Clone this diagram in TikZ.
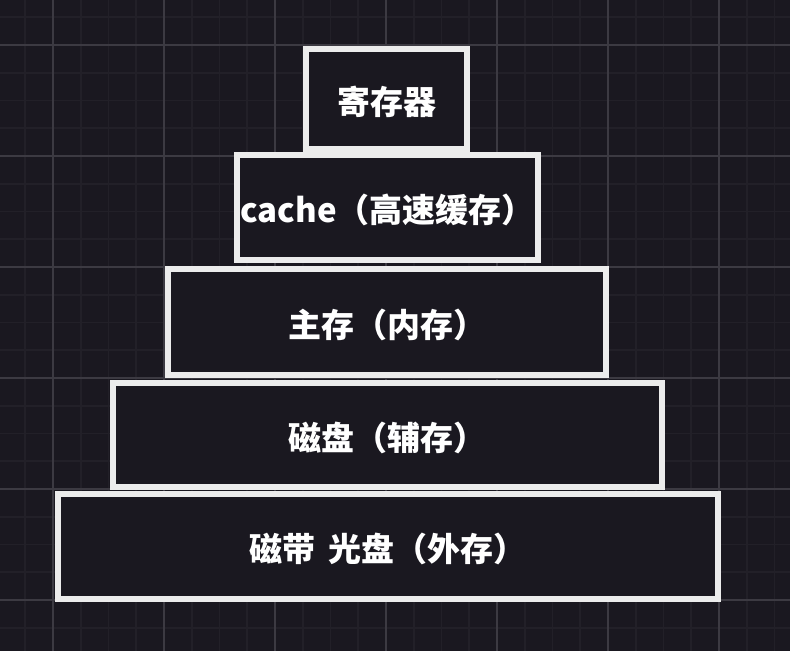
\documentclass[tikz,border=0pt]{standalone}
\usepackage{fontspec}
\newfontfamily\cjk{Noto Sans CJK SC}
\definecolor{bg}{RGB}{26,24,32}
\definecolor{gridminor}{RGB}{34,32,40}
\definecolor{gridmajor}{RGB}{60,58,66}
\definecolor{boxline}{RGB}{236,236,236}
\tikzset{level/.style={rectangle,draw=boxline,line width=5.5pt,fill=bg,text=white,inner sep=0pt,outer sep=0pt,text height=36pt,text depth=6pt,font=\cjk\bfseries\fontsize{33}{33}\selectfont}}
\tikzset{minorline/.style={draw=gridminor,line width=1.6pt}}
\tikzset{majorline/.style={draw=gridmajor,line width=1.2pt}}

\begin{document}
\begin{tikzpicture}[x=1pt,y=-1pt]
    \fill[bg] (0,0) rectangle (790,651);
    \useasboundingbox (0,0) rectangle (790,651);
    % grid
    \foreach \x in {25.25,53,...,790} \draw[minorline] (\x,0) -- (\x,651);
    \foreach \y in {17.25,45,...,651} \draw[minorline] (0,\y) -- (790,\y);
    \foreach \x in {53,164,...,790} \draw[majorline] (\x,0) -- (\x,651);
    \foreach \y in {45,156,...,651} \draw[majorline] (0,\y) -- (790,\y);
    % levels
    \node[level,minimum width=161pt,minimum height=100pt] (reg) at (386.5,99) {寄存器};
    \node[level,minimum width=301pt,minimum height=105pt] (cache) at (387.5,207.5) {cache（高速缓存）};
    \node[level,minimum width=438pt,minimum height=106pt] (mem) at (387,322) {主存（内存）};
    \node[level,minimum width=549pt,minimum height=104pt] (disk) at (387.5,435) {磁盘（辅存）};
    \node[level,minimum width=660pt,minimum height=105pt] (tape) at (388,546.5) {磁带\hspace{0.4em}光盘（外存）};
  \end{tikzpicture}
\end{document}
